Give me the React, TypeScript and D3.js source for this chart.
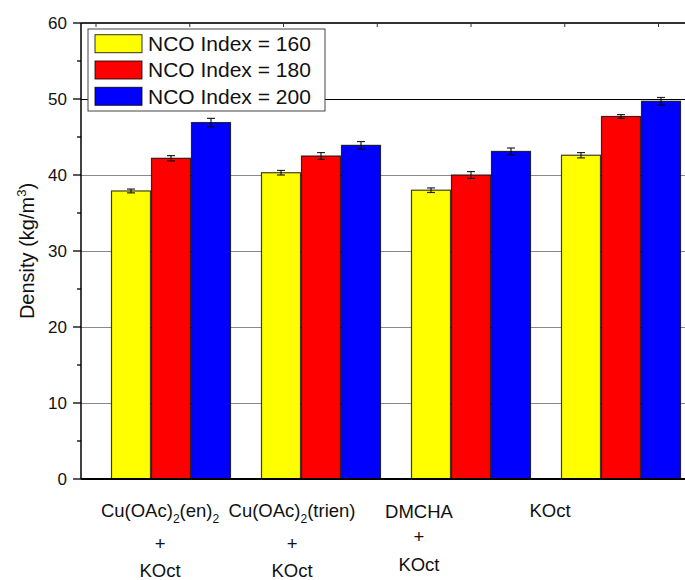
import React from "react";
import * as d3 from "d3";

// Catalyst systems and density series (kg/m^3)
const categories = ["cuEn", "cuTrien", "dmcha", "koct"];
const series = ["NCO Index = 160", "NCO Index = 180", "NCO Index = 200"];
const colors = ["#ffff00", "#ff0000", "#0000ff"];

const density160 = [37.9, 40.3, 38.0, 42.6];
const density180 = [42.2, 42.5, 40.0, 47.7];
const density200 = [46.9, 43.9, 43.1, 49.7];

const error160 = [0.25, 0.3, 0.3, 0.35];
const error180 = [0.35, 0.45, 0.45, 0.25];
const error200 = [0.55, 0.5, 0.45, 0.5];

const yTicks = [0, 10, 20, 30, 40, 50, 60];
const yMinorTicks = [5, 15, 25, 35, 45, 55];
const gridValues = [10, 20, 30, 40, 50];
const topTickValues = [0.5, 1.125, 1.75, 2.375, 3, 3.625, 4.25];

// Category labels: each line is a list of plain text and subscript pieces
type Piece = string | { sub: string };
const categoryLabels: Piece[][][] = [
  [["Cu(OAc)", { sub: "2" }, "(en)", { sub: "2" }], ["+"], ["KOct"]],
  [["Cu(OAc)", { sub: "2" }, "(trien)"], ["+"], ["KOct"]],
  [["DMCHA"], ["+"], ["KOct"]],
  [["KOct"]],
];
const labelAnchors = [0.927, 1.807, 2.653, 3.527];
const labelBaselines = [
  [516.5, 550, 577],
  [516.5, 550, 577],
  [518, 543, 571],
  [516.5],
];

const values = [density160, density180, density200];
const errors = [error160, error180, error200];

const W = 685;
const H = 580;
const left = 81;
const top = 23;
const bottom = 479;
const right = 685;
const subShift = 6.5;
const font = "'Liberation Sans', Arial, Helvetica, sans-serif";

function renderPieces(pieces: Piece[]) {
  let shifted = false;
  return pieces.map((p, pi) => {
    if (typeof p === "string") {
      const dy = shifted ? -subShift : undefined;
      shifted = false;
      return (
        <tspan key={pi} dy={dy}>
          {p}
        </tspan>
      );
    }
    shifted = true;
    return (
      <tspan key={pi} fontSize={12} dy={subShift}>
        {p.sub}
      </tspan>
    );
  });
}

export default function App() {
  const y = d3.scaleLinear().domain([0, 60]).range([bottom, top]);
  const x0 = d3
    .scaleBand<string>()
    .domain(categories)
    .range([left, left + 150 * 4.2])
    .paddingInner(0.2)
    .paddingOuter(0.2);
  const x1 = d3
    .scaleBand<string>()
    .domain(series)
    .range([0, x0.bandwidth()])
    .padding(0);
  const xu = d3.scaleLinear().domain([0.4, 4.6]).range([left, left + 150 * 4.2]);

  const capHalf = 4;

  return (
    <svg
      width={W}
      height={H}
      viewBox={`0 0 ${W} ${H}`}
      style={{ position: "absolute", left: 0, top: 0, background: "#fff" }}
      fontFamily={font}
    >
      <rect x={0} y={0} width={W} height={H} fill="#fff" />

      {/* horizontal grid */}
      {gridValues.map((v) => (
        <line
          key={`g${v}`}
          x1={left}
          x2={right}
          y1={Math.round(y(v)) + 0.5}
          y2={Math.round(y(v)) + 0.5}
          stroke={v === 50 ? "#000" : "#8a8a8a"}
          strokeWidth={1}
        />
      ))}

      {/* bars */}
      {categories.map((c, ci) => (
        <g key={c} transform={`translate(${x0(c)},0)`}>
          {series.map((s, si) => {
            const v = values[si][ci];
            return (
              <rect
                key={s}
                x={x1(s)! + 0.5}
                y={y(v)}
                width={x1.bandwidth() - 1}
                height={y(0) - y(v)}
                fill={colors[si]}
                stroke="#000"
                strokeOpacity={0.75}
                strokeWidth={1.2}
              />
            );
          })}
        </g>
      ))}

      {/* error bars */}
      {categories.map((c, ci) => (
        <g key={`e${c}`}>
          {series.map((s, si) => {
            const v = values[si][ci];
            const e = errors[si][ci];
            const cx = x0(c)! + x1(s)! + x1.bandwidth() / 2;
            return (
              <g key={s} stroke="#000" strokeWidth={1.2} strokeOpacity={0.85}>
                <line x1={cx} x2={cx} y1={y(v - e)} y2={y(v + e)} />
                <line x1={cx - capHalf} x2={cx + capHalf} y1={y(v + e)} y2={y(v + e)} />
                <line x1={cx - capHalf} x2={cx + capHalf} y1={y(v - e)} y2={y(v - e)} />
              </g>
            );
          })}
        </g>
      ))}

      {/* axes frame */}
      <line x1={left} x2={right} y1={top} y2={top} stroke="#333" strokeWidth={2} />
      <line x1={left} x2={right} y1={bottom} y2={bottom} stroke="#000" strokeWidth={2} />
      <line x1={left} x2={left} y1={top} y2={bottom} stroke="#000" strokeWidth={1.5} />

      {topTickValues.map((t) => (
        <line key={`tt${t}`} x1={xu(t)} x2={xu(t)} y1={top} y2={top + 4} stroke="#333" strokeWidth={1} />
      ))}

      {/* y ticks */}
      {yTicks.map((t) => (
        <g key={`y${t}`}>
          <line x1={left - 8} x2={left} y1={y(t)} y2={y(t)} stroke="#000" strokeWidth={1.3} />
          <text x={67} y={y(t)} dy="0.36em" textAnchor="end" fontSize={17} fill="#111">
            {t}
          </text>
        </g>
      ))}
      {yMinorTicks.map((t) => (
        <line key={`ym${t}`} x1={left - 4} x2={left} y1={y(t)} y2={y(t)} stroke="#000" strokeWidth={1.3} />
      ))}

      {/* y axis title */}
      <text
        transform={`translate(34,${(top + bottom) / 2}) rotate(-90)`}
        textAnchor="middle"
        fontSize={20}
        fill="#111"
      >
        <tspan>Density (kg/m</tspan>
        <tspan fontSize={13} dy={-8}>
          3
        </tspan>
        <tspan dy={8}>)</tspan>
      </text>

      {/* category labels */}
      {categoryLabels.map((lines, ci) => (
        <g key={`l${ci}`}>
          {lines.map((pieces, li) => (
            <text
              key={li}
              x={xu(labelAnchors[ci])}
              y={labelBaselines[ci][li]}
              textAnchor="middle"
              fontSize={18.5}
              fill="#111"
            >
              {renderPieces(pieces)}
            </text>
          ))}
        </g>
      ))}

      {/* legend */}
      <g>
        <rect x={88} y={29} width={237} height={82} fill="#fff" stroke="#444" strokeWidth={1} />
        {series.map((s, si) => (
          <g key={s} transform={`translate(0,${si * 26.3})`}>
            <rect x={95} y={34.7} width={47} height={18} fill={colors[si]} stroke="#000" strokeWidth={1} strokeOpacity={0.8} />
            <text x={148} y={51} fontSize={21} fill="#111">
              {s}
            </text>
          </g>
        ))}
      </g>
    </svg>
  );
}
